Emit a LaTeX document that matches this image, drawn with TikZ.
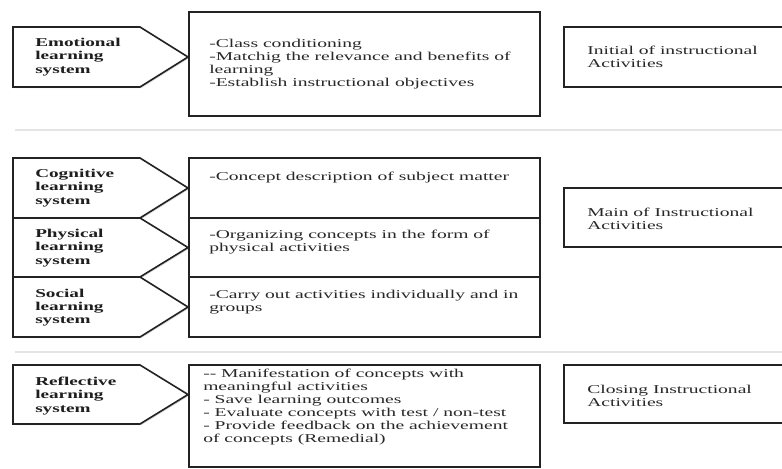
\documentclass[tikz,border=0pt]{standalone}
\usepackage{fontspec}
\setmainfont{Liberation Serif}
\newfontfamily\bodyfont{Liberation Serif}[FakeStretch=1.63]
\newfontfamily\labelfont{Liberation Serif}[FakeStretch=1.6]
\usepackage{tikz}
\usetikzlibrary{shadows}

\tikzset{
  boxline/.style={draw={rgb,255:red,35;green,35;blue,35}, line width=1.2pt, fill=white,
    drop shadow={shadow xshift=0.9pt, shadow yshift=-0.9pt, opacity=0.3}},
  seprule/.style={draw={rgb,255:red,228;green,228;blue,228}, line width=1.2pt},
  lbl/.style={anchor=west, inner sep=0.75pt, align=left, text={rgb,255:red,30;green,30;blue,30},
    font=\labelfont\fontsize{9}{9.9}\selectfont\bfseries},
  txt/.style={anchor=west, inner sep=0.75pt, align=left, text={rgb,255:red,40;green,40;blue,40},
    font=\bodyfont\fontsize{9}{9.75}\selectfont}
}

\begin{document}
\begin{tikzpicture}[x=0.75pt,y=0.75pt,yscale=-1,xscale=1]
\useasboundingbox (0,0) rectangle (782,468);

%Straight Lines: separators
\draw [seprule] (15,130) -- (782,130) ;
\draw [seprule] (15,352) -- (782,352) ;

%Shape: Pentagon (initial)
\draw [boxline] (13,27) -- (140,27) -- (188,57) -- (140,87) -- (13,87) -- cycle ;
%Shape: Pentagons (main)
\draw [boxline] (13,158) -- (140,158) -- (188,188) -- (140,218) -- (13,218) -- cycle ;
\draw [boxline] (13,218) -- (140,218) -- (188,247.5) -- (140,277) -- (13,277) -- cycle ;
\draw [boxline] (13,277) -- (140,277) -- (188,307) -- (140,337) -- (13,337) -- cycle ;
%Shape: Pentagon (closing)
\draw [boxline] (13,365) -- (140,365) -- (188,394.5) -- (140,424) -- (13,424) -- cycle ;

%Shape: Rectangles (middle column)
\draw [boxline] (189,12) rectangle (540,116) ;
\draw [boxline] (189,158) rectangle (540,337) ;
\draw [boxline] (189,218) -- (540,218) ;
\draw [boxline] (189,277) -- (540,277) ;
\draw [boxline] (189,365) rectangle (540,467) ;

%Shape: Rectangles (right column)
\draw [boxline] (564,27) rectangle (785,87) ;
\draw [boxline] (564,188) rectangle (785,247) ;
\draw [boxline] (564,365) rectangle (785,423) ;

% Text Node
\node [lbl] (emo) at (34,57) {Emotional\\learning\\system};
% Text Node
\node [txt] (cls) at (208,64) {-Class conditioning\\-Matchig the relevance and benefits of\\learning\\-Establish instructional objectives};
% Text Node
\node [txt] (ini) at (586,56.5) {Initial of instructional\\Activities};

% Text Node
\node [lbl] (cog) at (34,188) {Cognitive\\learning\\system};
% Text Node
\node [lbl] (phy) at (34,248) {Physical\\learning\\system};
% Text Node
\node [lbl] (soc) at (34,307.5) {Social\\learning\\system};
% Text Node
\node [txt] (cpt) at (208,178) {-Concept description of subject matter};
% Text Node
\node [txt] (org) at (208,242) {-Organizing concepts in the form of\\physical activities};
% Text Node
\node [txt] (car) at (208,302.5) {-Carry out activities individually and in\\groups};
% Text Node
\node [txt] (mai) at (586,219) {Main of Instructional\\Activities};

% Text Node
\node [lbl] (rfl) at (34,396) {Reflective\\learning\\system};
% Text Node
\node [txt] (man) at (202,407.5) {{-}{-} Manifestation of concepts with\\meaningful activities\\- Save learning outcomes\\- Evaluate concepts with test / non-test\\- Provide feedback on the achievement\\of concepts (Remedial)};
% Text Node
\node [txt] (clo) at (586,395.5) {Closing Instructional\\Activities};

\end{tikzpicture}
\end{document}
